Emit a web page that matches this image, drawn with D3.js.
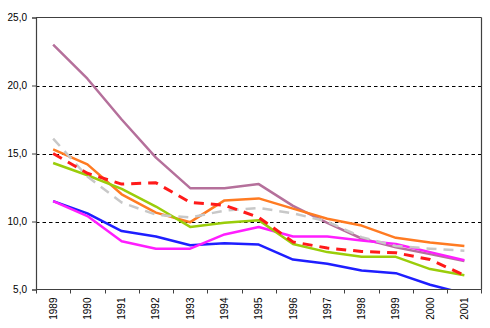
<!DOCTYPE html>
<html>
<head>
<meta charset="utf-8">
<script src="https://cdn.jsdelivr.net/npm/d3@7"></script>
<style>
  html, body { margin: 0; padding: 0; background: #fff; }
  svg { display: block; font-family: "Liberation Sans", Arial, sans-serif; }
</style>
</head>
<body>
<svg id="chart" width="490" height="328"></svg>
<script>
const years = ["1989","1990","1991","1992","1993","1994","1995","1996","1997","1998","1999","2000","2001"];
const yTicks = [5, 10, 15, 20, 25];

const mauve   = [23.0, 20.5, 17.5, 14.7, 12.45, 12.45, 12.75, 11.15, 9.9, 8.75, 8.1, 7.6, 7.1];
const orange  = [15.3, 14.2, 12.0, 10.65, 9.95, 11.55, 11.7, 10.95, 10.2, 9.7, 8.8, 8.45, 8.2];
const blue    = [11.5, 10.6, 9.3, 8.9, 8.25, 8.4, 8.3, 7.2, 6.9, 6.4, 6.2, 5.35, 4.7];
const magenta = [11.5, 10.4, 8.55, 8.0, 8.0, 9.05, 9.6, 8.9, 8.9, 8.6, 8.35, 7.75, 7.15];
const green   = [14.3, 13.4, 12.4, 11.1, 9.6, 9.9, 10.1, 8.35, 7.75, 7.4, 7.4, 6.5, 6.05];
const red     = [15.0, 13.55, 12.75, 12.85, 11.4, 11.2, 10.3, 8.5, 8.05, 7.8, 7.7, 7.2, 6.05];
const gray    = [16.1, 13.3, 11.4, 10.5, 10.3, 10.8, 11.0, 10.6, 10.0, 8.85, 8.2, 8.0, 7.85];

const series = [
  { values: mauve,   color: "#B5709B", width: 2.5, dash: null },
  { values: orange,  color: "#FF7B22", width: 2.5, dash: null },
  { values: blue,    color: "#1E1EFF", width: 2.5, dash: null },
  { values: magenta, color: "#FF1EFF", width: 2.5, dash: null },
  { values: green,   color: "#9ACD0A", width: 2.5, dash: null },
  { values: gray,    color: "#C8C8C8", width: 2.5, dash: "10,7" },
  { values: red,     color: "#FF1A1A", width: 3,   dash: "10,7" }
];

const L = 36, R = 481.5, T = 17.5, B = 289.5;
const svg = d3.select("#chart");

const x = d3.scaleBand().domain(years).range([L, R]).paddingInner(0).paddingOuter(0);
const y = d3.scaleLinear().domain([5, 25]).range([B, T]);
const cx = d => x(d) + x.bandwidth() / 2;

svg.append("defs").append("clipPath").attr("id", "plotclip")
  .append("rect").attr("x", L).attr("y", T).attr("width", R - L).attr("height", B - T);

// gridlines
svg.append("g").selectAll("line").data(yTicks.filter(v => v > 5 && v < 25)).join("line")
  .attr("x1", L).attr("x2", R)
  .attr("y1", d => Math.round(y(d)) + 0.5).attr("y2", d => Math.round(y(d)) + 0.5)
  .attr("stroke", "#000").attr("stroke-width", 1).attr("stroke-dasharray", "3.5,3");

// frame top & right
svg.append("line").attr("x1", L).attr("x2", R).attr("y1", T).attr("y2", T)
  .attr("stroke", "#404040").attr("stroke-width", 1.2);
svg.append("line").attr("x1", R).attr("x2", R).attr("y1", T).attr("y2", B)
  .attr("stroke", "#404040").attr("stroke-width", 1.2);

// lines
const line = d3.line().x((d, i) => cx(years[i])).y(d => y(d));
const gLines = svg.append("g").attr("clip-path", "url(#plotclip)");
series.forEach(s => {
  gLines.append("path").datum(s.values)
    .attr("d", line)
    .attr("fill", "none")
    .attr("stroke", s.color)
    .attr("stroke-width", s.width)
    .attr("stroke-linejoin", "round")
    .attr("stroke-dasharray", s.dash);
});

// y axis
const yAxis = d3.axisLeft(y).tickValues(yTicks).tickSize(4).tickPadding(5)
  .tickFormat(d => d3.format(".1f")(d).replace(".", ","));
const gy = svg.append("g").attr("transform", `translate(${L},0)`).call(yAxis);
gy.select(".domain").attr("stroke", "#404040").attr("stroke-width", 1.2);
gy.selectAll(".tick line").attr("stroke", "#404040");
gy.selectAll(".tick text").attr("font-size", 10).attr("fill", "#000")
  .attr("font-family", "'Liberation Sans', Arial, sans-serif");

// x axis (labels at centers, ticks at band edges)
const xAxis = d3.axisBottom(x).tickSize(0).tickPadding(0);
const gx = svg.append("g").attr("transform", `translate(0,${B})`).call(xAxis);
gx.select(".domain").remove();
gx.selectAll(".tick text")
  .attr("font-size", 10).attr("fill", "#000")
  .attr("font-family", "'Liberation Sans', Arial, sans-serif")
  .attr("transform", "rotate(-90)")
  .attr("text-anchor", "end")
  .attr("x", -8).attr("y", 0).attr("dy", "0.35em");
svg.append("line").attr("x1", L).attr("x2", R).attr("y1", B).attr("y2", B)
  .attr("stroke", "#404040").attr("stroke-width", 1.2);
const edges = years.map(d => x(d)).concat([x(years[years.length - 1]) + x.bandwidth()]);
svg.append("g").selectAll("line").data(edges).join("line")
  .attr("x1", d => Math.round(d) + 0.5).attr("x2", d => Math.round(d) + 0.5)
  .attr("y1", B).attr("y2", B + 4)
  .attr("stroke", "#404040").attr("stroke-width", 1);
</script>
</body>
</html>
